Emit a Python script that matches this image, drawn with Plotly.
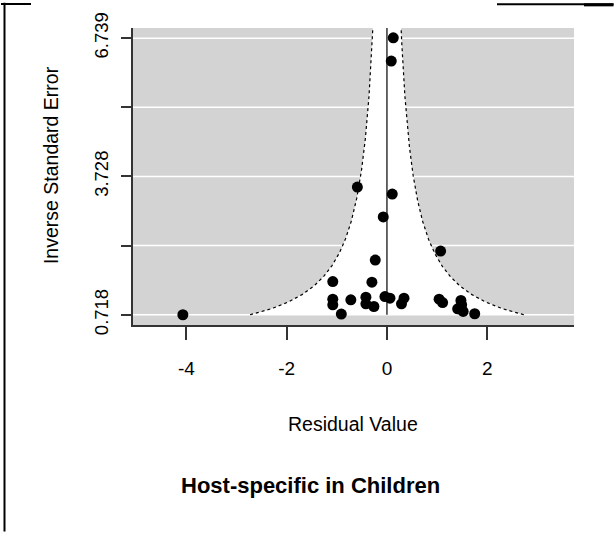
import numpy as np
import plotly.graph_objects as go

# ---- data ----
residual = [0.126, 0.086, -0.59, 0.106, -0.074, 1.07, -0.233, -1.08, -0.30,
            -1.08, -1.08, -0.91, -0.72, -0.42, -0.42, -0.26, -0.04, 0.06,
            0.34, 0.29, 1.04, 1.11, 1.475, 1.49, 1.41, 1.52, 1.75, -4.07]
inv_se = [6.746, 6.241, 3.497, 3.345, 2.847, 2.104, 1.909, 1.44, 1.426,
          1.058, 0.935, 0.733, 1.043, 1.10, 0.956, 0.898, 1.114, 1.08,
          1.08, 0.956, 1.058, 0.984, 1.028, 0.935, 0.848, 0.79, 0.74, 0.718]
ytick_vals = [0.718, 2.2233, 3.728, 5.2335, 6.739]
ytick_text = ["0.718", "", "3.728", "", "6.739"]
xtick_vals = [-4, -2, 0, 2]
xtick_text = ["-4", "-2", "0", "2"]
crit = 1.96
x_range = [-5.064, 3.73]
y_range = [0.495, 6.96]

W, H = 614, 533
L, R, T, B = 133, 574, 26, 325
FONT = "Liberation Sans, Arial, sans-serif"

def px(x):
    return (x - L) / (R - L)

def py(y):
    return (B - y) / (B - T)

# funnel region
ys = np.linspace(ytick_vals[0], y_range[1], 300)
fx = np.concatenate([-crit / ys, (crit / ys)[::-1]])
fy = np.concatenate([ys, ys[::-1]])

fig = go.Figure()
fig.add_trace(go.Scatter(x=fx, y=fy, fill="toself", fillcolor="white",
                         line=dict(width=0), mode="lines", hoverinfo="skip",
                         showlegend=False))
fig.add_trace(go.Scatter(x=-crit / ys, y=ys, mode="lines",
                         line=dict(color="black", width=1.2, dash="dot"),
                         showlegend=False, hoverinfo="skip"))
fig.add_trace(go.Scatter(x=crit / ys, y=ys, mode="lines",
                         line=dict(color="black", width=1.2, dash="dot"),
                         showlegend=False, hoverinfo="skip"))
fig.add_trace(go.Scatter(x=[0, 0], y=[ytick_vals[0], y_range[1]], mode="lines",
                         line=dict(color="black", width=1.2),
                         showlegend=False, hoverinfo="skip"))
fig.add_trace(go.Scatter(x=residual, y=inv_se, mode="markers",
                         marker=dict(color="black", size=11),
                         showlegend=False))

shapes = []
for v in ytick_vals:
    shapes.append(dict(type="line", xref="paper", yref="paper", x0=0, x1=1,
                       y0=(v - y_range[0]) / (y_range[1] - y_range[0]),
                       y1=(v - y_range[0]) / (y_range[1] - y_range[0]),
                       line=dict(color="white", width=1.5), layer="below"))
# outer frame fragments (filled rectangles)
for (x0, y0, x1, y1) in [(3.5, 0.5, 5.5, 533),
                         (497, 1.2, 613.5, 3.2), (584, 1.2, 613.5, 4.2)]:
    shapes.append(dict(type="rect", xref="paper", yref="paper",
                       x0=px(x0), x1=px(x1), y0=py(y1), y1=py(y0),
                       fillcolor="black", line=dict(width=0)))

annotations = [
    dict(text="Residual Value", xref="paper", yref="paper",
         x=px(353), y=py(425), showarrow=False,
         font=dict(family=FONT, size=19.5, color="black"),
         xanchor="center", yanchor="middle"),
    dict(text="Inverse Standard Error", xref="paper", yref="paper",
         x=px(51), y=py(164), showarrow=False, textangle=-90,
         font=dict(family=FONT, size=19.5, color="black"),
         xanchor="center", yanchor="middle"),
    dict(text="<b>Host-specific in Children</b>", xref="paper", yref="paper",
         x=px(310), y=py(487), showarrow=False,
         font=dict(family=FONT, size=22, color="black"),
         xanchor="center", yanchor="middle"),
    # top-left frame fragment
    dict(text="", xref="paper", yref="paper", x=px(0.5), y=py(1.2),
         xanchor="left", yanchor="top", showarrow=False,
         width=30, height=2, bgcolor="black", borderpad=0, borderwidth=0),
]

fig.update_layout(
    width=W, height=H,
    margin=dict(l=L, r=W - R, t=T, b=H - B, pad=0),
    paper_bgcolor="white", plot_bgcolor="#d3d3d3",
    shapes=shapes, annotations=annotations,
    font=dict(family=FONT, color="black"),
)
fig.update_xaxes(range=x_range, tickvals=xtick_vals, ticktext=xtick_text,
                 showgrid=False, zeroline=False, showline=True,
                 linecolor="#333333", linewidth=1.5, ticks="outside",
                 ticklen=13, tickcolor="#333333", tickwidth=1.5,
                 ticklabelstandoff=12,
                 tickfont=dict(family=FONT, size=19, color="black"))
fig.update_yaxes(range=y_range, tickvals=ytick_vals, ticktext=ytick_text,
                 showgrid=False, zeroline=False, showline=True,
                 linecolor="#333333", linewidth=1.5, ticks="outside",
                 ticklen=10, tickcolor="#333333", tickwidth=1.5,
                 tickangle=-90, ticklabelstandoff=6,
                 tickfont=dict(family=FONT, size=18.5, color="black"))

fig.write_html("out.html")
